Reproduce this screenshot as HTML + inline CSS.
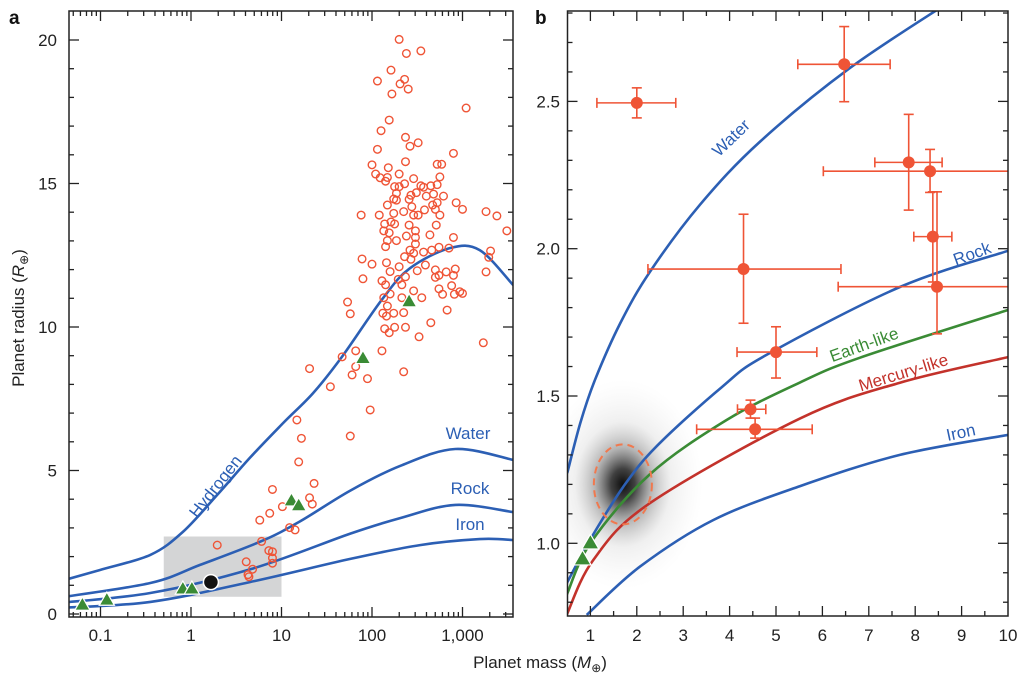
<!DOCTYPE html>
<html><head><meta charset="utf-8"><style>
html,body{margin:0;padding:0;background:#fff;}
svg{display:block;font-family:"Liberation Sans",Arial,sans-serif;}
</style></head><body>
<svg id="fig" width="1024" height="681" viewBox="0 0 1024 681" xmlns="http://www.w3.org/2000/svg">
<defs>
<radialGradient id="cloudGrad" cx="0.5" cy="0.5" r="0.5">
<stop offset="0" stop-color="#000" stop-opacity="0.95"/>
<stop offset="0.15" stop-color="#111" stop-opacity="0.8"/>
<stop offset="0.35" stop-color="#444" stop-opacity="0.4"/>
<stop offset="0.6" stop-color="#888" stop-opacity="0.13"/>
<stop offset="1" stop-color="#bbb" stop-opacity="0"/>
</radialGradient>
<clipPath id="clipA"><rect x="69" y="11" width="444" height="606"/></clipPath>
<clipPath id="clipB"><rect x="567" y="11" width="441" height="605"/></clipPath>
</defs>
<g id="panelA"></g>
<g id="panelB"></g>
</svg>
<script>
// ---------- Panel a data (log10 mass in Earth masses, radius in Earth radii) ----------
const aLogMass = [2.30,2.38,2.54,2.21,2.06,2.36,2.31,2.40,2.22,3.04,2.19,2.10,2.37,2.42,2.51,2.06,2.90,2.00,2.18,2.37,2.72,2.77,2.04,2.09,2.17,2.15,2.30,2.46,2.75,2.36,2.25,2.30,2.54,2.65,2.72,2.57,2.49,2.43,2.60,2.68,2.79,2.27,2.24,2.27,2.41,2.72,2.67,2.17,2.44,2.93,3.00,2.58,2.70,3.26,3.38,1.88,2.08,2.24,2.35,2.46,2.51,2.75,3.49,2.14,2.21,2.25,2.41,2.13,2.19,2.38,2.48,2.64,2.71,2.90,2.17,2.27,2.48,2.48,2.15,2.42,2.46,2.57,2.66,2.74,2.85,3.31,1.89,2.36,2.43,2.59,2.00,2.16,2.30,2.50,2.70,2.82,2.92,3.29,3.26,2.20,1.90,2.11,2.29,2.37,2.70,2.74,2.90,2.15,2.33,2.74,2.88,2.46,2.78,2.91,2.97,3.00,2.20,2.13,2.33,2.55,1.73,2.17,1.76,2.12,2.16,2.24,2.35,2.83,2.14,2.19,2.25,2.37,2.65,2.52,3.23,1.82,2.11,1.67,1.31,1.82,1.78,1.95,2.35,1.54,1.76,1.98,1.17,1.22,1.19,1.36,0.90,1.31,1.34,1.01,0.87,0.76,1.09,1.15,0.78,0.29,0.86,0.90,0.90,0.90,0.61,0.68,0.63,0.64];
const aRadius = [20.02,19.53,19.62,18.95,18.57,18.63,18.47,18.29,18.12,17.63,17.21,16.84,16.61,16.30,16.42,16.19,16.05,15.65,15.55,15.76,15.67,15.67,15.33,15.20,15.21,15.08,15.33,15.17,15.23,14.99,14.89,14.89,14.92,14.92,14.96,14.87,14.68,14.59,14.56,14.63,14.56,14.66,14.46,14.42,14.45,14.33,14.25,14.25,14.19,14.33,14.10,14.08,14.10,14.02,13.87,13.90,13.90,13.96,14.02,13.90,13.90,13.90,13.35,13.59,13.66,13.59,13.55,13.35,13.28,13.17,13.35,13.21,13.55,13.12,13.01,13.01,13.12,12.89,12.80,12.68,12.57,12.61,12.68,12.78,12.75,12.65,12.37,12.45,12.36,12.16,12.19,12.24,12.10,11.96,11.99,11.92,12.02,12.43,11.92,11.93,11.68,11.61,11.66,11.75,11.73,11.80,11.80,11.47,11.47,11.33,11.44,11.26,11.14,11.14,11.23,11.17,11.15,11.02,11.02,11.02,10.87,10.73,10.46,10.48,10.38,10.48,10.50,10.59,9.94,9.80,9.99,9.99,10.15,9.66,9.45,9.17,9.17,8.96,8.55,8.62,8.33,8.20,8.44,7.92,6.20,7.11,6.76,6.12,5.30,4.55,4.34,4.05,3.83,3.74,3.51,3.27,3.01,2.93,2.53,2.40,2.21,2.17,1.95,1.77,1.82,1.56,1.37,1.30];
const aSolarLogMass = [-1.20,-0.93,-0.09,0.01,1.11,1.19,1.90,2.41];
const aSolarRadius = [0.28,0.45,0.84,0.84,3.91,3.74,8.87,10.85];
const aTargetLogMass = [0.22];
const aTargetRadius = [1.11];
const aHydrogenLogM = [-1.48,-1.01,-0.45,-0.09,0.29,0.65,1.02,1.35,1.67,2.12,2.42,2.86,3.19,3.56];
const aHydrogenR = [1.11,1.53,2.06,2.86,4.15,5.44,6.66,7.70,8.97,11.0,12.05,12.75,12.68,11.46];
const aWaterLogM = [-1.48,-0.45,0.10,0.78,1.20,1.76,2.31,2.92,3.56];
const aWaterR = [0.56,1.08,1.71,2.54,3.22,4.30,5.16,5.75,5.37];
const aRockLogM = [-1.48,-0.45,0.67,1.76,2.31,2.92,3.56];
const aRockR = [0.38,0.73,1.57,2.80,3.34,3.80,3.55];
const aIronLogM = [-1.48,-0.45,0.65,1.76,2.53,3.19,3.56];
const aIronR = [0.21,0.42,1.11,1.92,2.40,2.61,2.58];
const aYTicks = [0,5,10,15,20];
const aXTickLogs = [-1,0,1,2,3];
const aXTickLabels = ["0.1","1","10","100","1,000"];

// ---------- Panel b data ----------
const bMass = [2.0,6.47,7.86,8.32,8.38,8.47,4.30,5.0,4.45,4.55];
const bRadius = [2.495,2.626,2.293,2.263,2.041,1.871,1.931,1.649,1.455,1.387];
const bMassLo = [1.14,5.47,7.13,6.02,7.97,6.34,2.24,4.16,4.17,3.29];
const bMassHi = [2.84,7.46,8.58,10.6,8.79,10.6,6.40,5.88,4.78,5.78];
const bRadLo = [2.444,2.499,2.131,2.191,1.887,1.711,1.747,1.561,1.425,1.357];
const bRadHi = [2.546,2.754,2.456,2.337,2.193,2.193,2.117,1.735,1.486,1.425];
const bSolarMass = [0.83,1.0];
const bSolarRadius = [0.943,0.997];
const bTargetMass = [1.70];
const bTargetRadius = [1.20];
const bWaterM = [0.50,0.78,1.10,1.64,2.28,3.36,4.66,6.59,8.71];
const bWaterR = [1.238,1.407,1.555,1.746,1.921,2.149,2.364,2.613,2.835];
const bRockM = [0.49,0.99,1.71,2.43,3.83,4.80,7.67,10.0];
const bRockR = [0.864,1.011,1.192,1.330,1.530,1.640,1.870,1.993];
const bEarthM = [0.49,1.01,2.28,3.94,5.52,6.81,10.0];
const bEarthR = [0.825,1.003,1.234,1.419,1.546,1.630,1.792];
const bMercM = [0.49,1.06,2.28,5.52,7.67,10.0];
const bMercR = [0.757,0.943,1.136,1.424,1.545,1.632];
const bIronM = [0.92,2.07,3.65,5.52,7.67,10.0];
const bIronR = [0.757,0.921,1.079,1.194,1.300,1.368];
const bXTicks = [1,2,3,4,5,6,7,8,9,10];
const bYTicks = [1.0,1.5,2.0,2.5];

const NS = "http://www.w3.org/2000/svg";
const BLUE = "#2c5fb4", GREEN = "#3a8b35", RED = "#c3322b", ORANGE = "#ef5436";
function mk(tag, attrs, parent){
  const e = document.createElementNS(NS, tag);
  for (const k in attrs) e.setAttribute(k, attrs[k]);
  parent.appendChild(e);
  return e;
}
const xA = l => 191 + l * 90.5;
const yA = r => 614 - r * 28.7;
const xB = m => 544 + m * 46.4;
const yB = r => 543.3 - (r - 1) * 294.6;

function smoothPath(xs, ys){
  const p = xs.map((x,i)=>[x, ys[i]]);
  let d = "M" + p[0][0].toFixed(1) + "," + p[0][1].toFixed(1);
  for (let i=0;i<p.length-1;i++){
    const p0 = p[i-1]||p[i], p1=p[i], p2=p[i+1], p3=p[i+2]||p[i+1];
    const c1x = p1[0]+(p2[0]-p0[0])/6, c1y = p1[1]+(p2[1]-p0[1])/6;
    const c2x = p2[0]-(p3[0]-p1[0])/6, c2y = p2[1]-(p3[1]-p1[1])/6;
    d += " C"+c1x.toFixed(1)+","+c1y.toFixed(1)+" "+c2x.toFixed(1)+","+c2y.toFixed(1)+" "+p2[0].toFixed(1)+","+p2[1].toFixed(1);
  }
  return d;
}
function tri(cx, cy, s){
  return (cx)+","+(cy-s)+" "+(cx-s*0.95)+","+(cy+s*0.65)+" "+(cx+s*0.95)+","+(cy+s*0.65);
}

// ================= PANEL A =================
const A = document.getElementById("panelA");
const aPlot = mk("g", {"clip-path":"url(#clipA)"}, A);


const box = mk("rect", {x:xA(Math.log10(0.5)), y:yA(2.7), width:xA(1)-xA(Math.log10(0.5)), height:yA(0.6)-yA(2.7), fill:"#d4d5d6"}, aPlot);



const aCurves = [[aHydrogenLogM,aHydrogenR,"hydrogen-curve"],[aWaterLogM,aWaterR,"water-curve-a"],[aRockLogM,aRockR,"rock-curve-a"],[aIronLogM,aIronR,"iron-curve-a"]];
aCurves.forEach(c=>{
  const p = mk("path", {d:smoothPath(c[0].map(xA), c[1].map(yA)), fill:"none", stroke:BLUE, "stroke-width":2.6}, aPlot);
  
  
});
aLogMass.forEach((l,i)=>{
  const c = mk("circle", {cx:xA(l), cy:yA(aRadius[i]), r:3.8, fill:"none", stroke:ORANGE, "stroke-width":1.4}, aPlot);
  
  
});
aSolarLogMass.forEach((l,i)=>{
  const t = mk("polygon", {points:tri(xA(l), yA(aSolarRadius[i])-1, 8), fill:GREEN, stroke:"#fff", "stroke-width":1.2}, aPlot);
  
  
});
aTargetLogMass.forEach((l,i)=>{
  const c = mk("circle", {cx:xA(l), cy:yA(aTargetRadius[i]), r:7.5, fill:"#111", stroke:"#fff", "stroke-width":1.5}, aPlot);
  
  
});
[["Hydrogen",220,490,-52,"hydrogen-label"],["Water",468,439,0,"water-label-a"],["Rock",470,494,0,"rock-label-a"],["Iron",470,530,0,"iron-label-a"]].forEach(L=>{
  const t = mk("text", {x:L[1], y:L[2], fill:BLUE, "font-size":17, "text-anchor":"middle", transform:"rotate("+L[3]+" "+L[1]+" "+L[2]+")"}, A);
  t.textContent = L[0];
  
  
});
const fA = mk("rect", {x:69, y:11, width:444, height:606, fill:"none", stroke:"#222", "stroke-width":1.5}, A);


for (let v=0; v<=20; v++){
  const len = (v%5===0)?10:5;
  mk("line", {x1:69, x2:69+len, y1:yA(v), y2:yA(v), stroke:"#222", "stroke-width":1.3}, A);
  mk("line", {x1:513, x2:513-len, y1:yA(v), y2:yA(v), stroke:"#222", "stroke-width":1.3}, A);
}
aYTicks.forEach(v=>{
  const t = mk("text", {x:57, y:yA(v)+6, "text-anchor":"end", "font-size":17, fill:"#222"}, A);
  t.textContent = String(v);
  
  
});
for (let dec=-2; dec<=3; dec++){
  for (let k=1;k<=9;k++){
    const l = dec + Math.log10(k);
    const x = xA(l);
    if (x<70 || x>512) continue;
    const len = k===1?10:5;
    mk("line", {x1:x, x2:x, y1:617, y2:617-len, stroke:"#222", "stroke-width":1.3}, A);
    mk("line", {x1:x, x2:x, y1:11, y2:11+len, stroke:"#222", "stroke-width":1.3}, A);
  }
}
aXTickLogs.forEach((l,i)=>{
  const t = mk("text", {x:xA(l), y:641, "text-anchor":"middle", "font-size":17, fill:"#222"}, A);
  t.textContent = aXTickLabels[i];
  
  
});
const la = mk("text", {x:9, y:24, "font-size":19, "font-weight":"bold", fill:"#111"}, A);
la.textContent = "a";


const yt = mk("text", {x:24, y:318, "text-anchor":"middle", "font-size":17, fill:"#222", transform:"rotate(-90 24 318)"}, A);
yt.innerHTML = 'Planet radius (<tspan font-style="italic">R</tspan><tspan font-size="12" dy="4">⊕</tspan><tspan dy="-4">)</tspan>';



// ================= PANEL B =================
const B = document.getElementById("panelB");
const bPlot = mk("g", {"clip-path":"url(#clipB)"}, B);


bTargetMass.forEach((m,i)=>{
  const cl = mk("ellipse", {cx:xB(m), cy:yB(bTargetRadius[i]), rx:80, ry:105, fill:"url(#cloudGrad)"}, bPlot);
  
  
});
const bCurves = [[bWaterM,bWaterR,BLUE,"water-curve-b"],[bRockM,bRockR,BLUE,"rock-curve-b"],[bEarthM,bEarthR,GREEN,"earth-like-curve"],[bMercM,bMercR,RED,"mercury-like-curve"],[bIronM,bIronR,BLUE,"iron-curve-b"]];
bCurves.forEach(c=>{
  const p = mk("path", {d:smoothPath(c[0].map(xB), c[1].map(yB)), fill:"none", stroke:c[2], "stroke-width":2.6}, bPlot);
  
  
});
bTargetMass.forEach((m,i)=>{
  const e = mk("ellipse", {cx:xB(m), cy:yB(bTargetRadius[i]), rx:29, ry:40, fill:"none", stroke:"#f0794f", "stroke-width":2, "stroke-dasharray":"7,5"}, bPlot);
  
  
});
bMass.forEach((m,i)=>{
  const g = mk("g", {stroke:ORANGE, "stroke-width":1.6}, bPlot);
  
  
  const cx = xB(m), cy = yB(bRadius[i]);
  const x1 = xB(bMassLo[i]), x2 = xB(bMassHi[i]), y1 = yB(bRadHi[i]), y2 = yB(bRadLo[i]);
  mk("line", {x1:x1, x2:x2, y1:cy, y2:cy}, g);
  mk("line", {x1:x1, x2:x1, y1:cy-5, y2:cy+5}, g);
  mk("line", {x1:x2, x2:x2, y1:cy-5, y2:cy+5}, g);
  mk("line", {x1:cx, x2:cx, y1:y1, y2:y2}, g);
  mk("line", {x1:cx-5, x2:cx+5, y1:y1, y2:y1}, g);
  mk("line", {x1:cx-5, x2:cx+5, y1:y2, y2:y2}, g);
  mk("circle", {cx:cx, cy:cy, r:6, fill:ORANGE, stroke:"none"}, g);
});
bSolarMass.forEach((m,i)=>{
  const t = mk("polygon", {points:tri(xB(m), yB(bSolarRadius[i])-1, 9), fill:GREEN, stroke:"#fff", "stroke-width":1.2}, bPlot);
  
  
});
[["Water",735,142,-44,BLUE,"water-label-b"],["Rock",974,259,-20,BLUE,"rock-label-b"],["Earth-like",866,350,-20,GREEN,"earth-like-label"],["Mercury-like",905,378,-17,RED,"mercury-like-label"],["Iron",962,438,-12,BLUE,"iron-label-b"]].forEach(L=>{
  const t = mk("text", {x:L[1], y:L[2], fill:L[4], "font-size":17, "text-anchor":"middle", transform:"rotate("+L[3]+" "+L[1]+" "+L[2]+")"}, B);
  t.textContent = L[0];
  
  
});
const fB = mk("rect", {x:567.5, y:11, width:440.5, height:605, fill:"none", stroke:"#222", "stroke-width":1.5}, B);


for (let m=1; m<=19; m++){
  const v = m/2; if (v<0.6) continue;
  const x = xB(v), len = (m%2===0)?10:5;
  if (x>1007) continue;
  mk("line", {x1:x, x2:x, y1:616, y2:616-len, stroke:"#222", "stroke-width":1.3}, B);
  mk("line", {x1:x, x2:x, y1:11, y2:11+len, stroke:"#222", "stroke-width":1.3}, B);
}
for (let k=8; k<=28; k++){
  const r = k/10, y = yB(r);
  if (y<12 || y>615) continue;
  const len = (k%5===0)?10:5;
  mk("line", {x1:567.5, x2:567.5+len, y1:y, y2:y, stroke:"#222", "stroke-width":1.3}, B);
  mk("line", {x1:1008, x2:1008-len, y1:y, y2:y, stroke:"#222", "stroke-width":1.3}, B);
}
bXTicks.forEach(v=>{
  const t = mk("text", {x:xB(v), y:641, "text-anchor":"middle", "font-size":17, fill:"#222"}, B);
  t.textContent = String(v);
  
  
});
bYTicks.forEach(v=>{
  const t = mk("text", {x:560, y:yB(v)+6, "text-anchor":"end", "font-size":17, fill:"#222"}, B);
  t.textContent = v.toFixed(1);
  
  
});
const lb = mk("text", {x:535, y:24, "font-size":19, "font-weight":"bold", fill:"#111"}, B);
lb.textContent = "b";


const xt = mk("text", {x:540, y:668, "text-anchor":"middle", "font-size":17, fill:"#222"}, B);
xt.innerHTML = 'Planet mass (<tspan font-style="italic">M</tspan><tspan font-size="12" dy="4">⊕</tspan><tspan dy="-4">)</tspan>';


</script>
</body></html>
